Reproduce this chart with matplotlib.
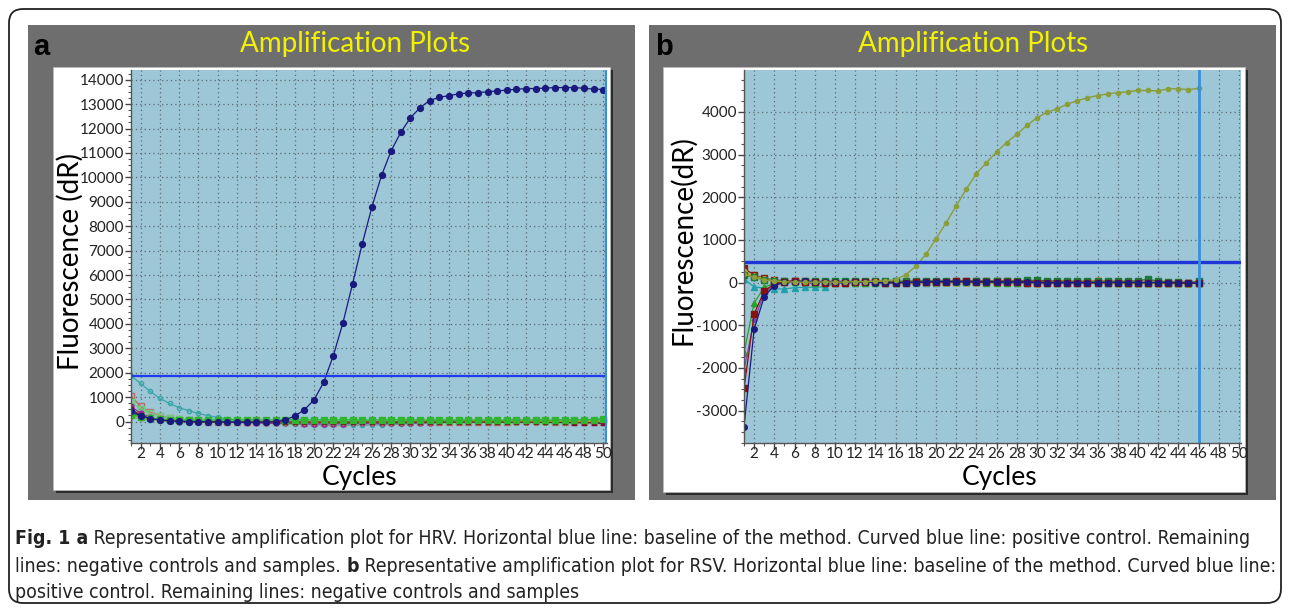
import matplotlib
matplotlib.use('Agg')
import matplotlib.pyplot as plt
import matplotlib.font_manager as fm
from matplotlib.font_manager import FontProperties
from matplotlib.patches import FancyBboxPatch, Rectangle
from matplotlib.ticker import MultipleLocator, FixedLocator

plt.rcParams['axes.unicode_minus'] = False

# ---------------- data ----------------
cycles_a = list(range(1, 51))
threshold_a = 1870
pos_a = [430, 230, 120, 60, 30, 10, 0, -10, -10, -20, -20, -20, -30, -30, -20, -10, 60, 230, 480, 890,
         1610, 2700, 4050, 5650, 7280, 8790, 10080, 11090, 11850, 12440, 12860, 13150, 13280, 13350, 13420,
         13460, 13470, 13510, 13540, 13580, 13610, 13640, 13640, 13660, 13680, 13680, 13680, 13650, 13620, 13600]
teal_a = [1870, 1560, 1230, 950, 740, 570, 440, 330, 240, 170, 110, 60, 20, -10, -40, -60, -80, -100, -120, -130,
          -140, -150, -150, -150, -150, -140, -130, -120, -100, -90, -70, -50, -40, -30, -20, -10, 0, 0, 10, 10,
          20, 20, 30, 30, 40, 40, 50, 60, 80, 110]
rose_a = [1050, 620, 380, 240, 150, 90, 50, 20, 0, -10, -20, -20, -30, -30, -30, -40, -40, -40, -50, -50,
          -50, -50, -50, -40, -40, -40, -40, -30, -30, -30, -20, -20, -20, -10, -10, -10, -10, 0, 0, 0,
          10, 10, 10, 10, 0, 0, 0, -10, -10, -20]
lgreen_a = [800, 520, 330, 220, 160, 110, 80, 60, 40, 30, 20, 20, 10, 10, 0, 0, 0, -10, -10, -10,
            -10, -10, 0, 0, 0, 0, 10, 10, 10, 10, 10, 10, 20, 20, 20, 20, 20, 20, 20, 30,
            30, 30, 30, 30, 30, 30, 40, 40, 40, 40]
purple_a = [620, 330, 170, 80, 30, 10, 0, -10, -20, -20, -30, -40, -50, -60, -70, -80, -80, -80, -90, -90,
            -90, -90, -90, -80, -80, -80, -80, -70, -70, -60, -60, -50, -40, -40, -30, -30, -20, -20, -20, -10,
            -10, -10, -10, -10, -20, -20, -20, -30, -30, -40]
dgreen_a = [350, 200, 110, 60, 30, 10, 0, 0, 0, 0, 0, -10, -10, -10, -10, -10, -10, -10, -10, -10,
            -10, -10, -10, -10, -10, -10, -10, -10, -10, 0, 0, 0, 0, 0, 0, 0, 0, 0, 0, 0,
            0, 0, 0, 0, 0, 0, 0, 0, 0, 0]
gray_a = [160, 110, 70, 40, 20, 10, 0, 0, -10, -10, -10, -10, -10, -10, 0, 0, 0, 0, 0, 0,
          0, 0, 0, 0, 0, 0, 0, 0, 0, 0, 0, 10, 10, 10, 10, 10, 10, 10, 10, 10,
          10, 10, 10, 10, 10, 10, 10, 10, 10, 10]
orange_a = [260, 170, 100, 60, 30, 10, 0, -10, -10, -10, -20, -20, -20, -20, -20, -20, -20, -20, -20, -20,
            -20, -20, -20, -20, -20, -10, -10, -10, -10, -10, 0, 0, 0, 0, 0, 0, 0, 0, 0, 0,
            0, 0, 0, 0, 0, 0, 0, 0, 0, 0]
bgreen_a = [280, 200, 140, 100, 80, 60, 60, 60, 60, 60, 70, 70, 70, 60, 60, 60, 70, 70, 70, 70,
            70, 70, 70, 70, 60, 60, 70, 70, 70, 70, 60, 60, 60, 60, 60, 60, 60, 60, 60, 60,
            60, 60, 60, 60, 60, 70, 70, 70, 80, 90]
maroon_a = [500, 260, 130, 60, 20, 0, -10, -20, -20, -20, -20, -20, -20, -20, -20, -20, -20, -20, -20, -20,
            -20, -20, -20, -20, -20, -20, -20, -20, -20, -20, -20, -20, -20, -20, -20, -20, -20, -20, -20, -30,
            -30, -30, -30, -40, -40, -40, -50, -50, -60, -80]

cycles_b = list(range(1, 47))
threshold_b = 490
pos_b = [200, 120, 60, 30, 20, 10, 10, 10, 10, 10, 10, 20, 20, 30, 40, 70, 180, 380, 660, 1020,
         1400, 1790, 2190, 2550, 2810, 3060, 3280, 3470, 3680, 3860, 3990, 4070, 4180, 4260, 4330,
         4380, 4420, 4450, 4470, 4500, 4500, 4490, 4540, 4540, 4520, 4550]
navy_b = [-3380, -1100, -330, -70, 10, 20, 30, 20, 10, 10, 10, 10, 10, 0, -10, -10, 0, 0, 10, 20,
          20, 20, 20, 10, 10, 10, 10, 10, 10, 0, 0, 0, 0, 0, 0, 0, 0, 0, 0, 0, 0, 0, 0, -10, -10, -20]
dred_b = [-2480, -740, -200, -30, 20, 30, 20, 10, 0, 0, 0, 10, 10, 10, 0, 0, 0, 10, 10, 20,
          20, 30, 30, 20, 20, 20, 10, 10, 0, 0, -10, -10, -10, -10, -10, -10, 0, 0, 0, 0, 0, 0, -10, -10, -10, -20]
purple_b = [-2050, -880, -260, -60, 0, 10, 10, 10, 0, 0, 0, 0, 10, 10, 10, 0, 0, 0, 0, 10,
            10, 10, 10, 10, 10, 0, 0, 0, 0, 0, 0, 0, 0, 0, 0, 0, 0, 0, 0, 0, 0, 0, 0, 0, 0, -10]
green_b = [-1650, -480, -110, -20, 10, 10, 10, 0, 0, 0, 0, 0, 0, 0, 0, 0, 10, 10, 20, 20,
           20, 10, 10, 10, 0, -10, -10, -10, -10, -10, 0, 0, 0, 0, 0, 0, 0, -10, -10, -10, -10, -10, -10, -20, -20, -20]
teal_b = [80, -100, -130, -150, -150, -120, -110, -110, -100, -20, 0, 0, 0, 0, 0, 0, 0, 0, 0, 0,
          10, 10, 10, 10, 10, 10, 10, 0, 0, 0, 0, 0, 0, 0, 0, 0, 0, 0, 0, 0, 0, 0, 0, 0, 0, -10]
maroon_b = [330, 180, 100, 60, 40, 30, 30, 20, 20, 20, 20, 20, 20, 10, 10, 10, 10, 10, 10, 10,
            10, 20, 20, 30, 30, 30, 30, 20, 20, 20, 10, 10, 10, 10, 10, 10, 10, 10, 0, 0, 0, 0, 0, 0, 0, 0]
orange_b = [230, 140, 80, 40, 30, 20, 10, 10, 0, 0, 30, 10, 0, 0, 0, 0, 0, 0, 0, 0,
            0, 0, 0, 0, 0, 30, 0, 0, -10, -30, -20, -10, 0, 0, 10, 60, 20, 0, 0, 0, 0, 0, 0, 0, 0, -10]
olive_b = [260, 160, 90, 50, 30, 20, 10, 0, 0, 0, 0, 0, 0, 0, 0, -10, -10, -10, -10, -10,
           -10, -10, -10, -10, -20, -20, -20, -20, -20, -20, -20, -20, -20, -20, -20, -20, -20, -30, -30, -30,
           -30, -30, -30, -30, -30, -30]
dgreen_b = [180, 120, 70, 40, 30, 30, 30, 30, 30, 30, 30, 30, 30, 30, 30, 30, 30, 40, 40, 40,
            40, 40, 40, 40, 40, 40, 40, 40, 50, 50, 40, 40, 30, 30, 30, 30, 30, 30, 30, 40, 80, 30, 20, 10, 0, 30]

xticks = list(range(2, 51, 2))
yticks_a = list(range(0, 14001, 1000))
yticks_b = list(range(-3000, 4001, 1000))
title_text = "Amplification Plots"
caption_lines = [
    [("Fig. 1 a", "bold"), (" Representative amplification plot for HRV. Horizontal blue line: baseline of the method. Curved blue line: positive control. Remaining", "normal")],
    [("lines: negative controls and samples. ", "normal"), ("b", "bold"), (" Representative amplification plot for RSV. Horizontal blue line: baseline of the method. Curved blue line:", "normal")],
    [("positive control. Remaining lines: negative controls and samples", "normal")],
]

# ---------------- layout ----------------
W, H = 1290, 611
fig = plt.figure(figsize=(W / 100, H / 100), dpi=100)
fig.patch.set_facecolor('white')

def fr(x0, y0, x1, y1):
    return [x0 / W, 1 - y1 / H, (x1 - x0) / W, (y1 - y0) / H]

bg = fig.add_axes([0, 0, 1, 1], zorder=-10)
bg.set_xlim(0, W)
bg.set_ylim(H, 0)
bg.axis('off')
bg.add_patch(FancyBboxPatch((9, 9), 1272, 594, boxstyle="round,pad=0,rounding_size=14",
                            facecolor='white', edgecolor='#222222', lw=1.3))
GRAY = '#6e6e6e'
bg.add_patch(Rectangle((28, 25), 607, 475, facecolor=GRAY, edgecolor='none'))
bg.add_patch(Rectangle((649, 25), 627, 475, facecolor=GRAY, edgecolor='none'))
for (x0, y0, x1, y1) in [(53, 67, 610, 490), (663, 67, 1245, 492)]:
    bg.add_patch(Rectangle((x0 + 3, y0 + 3), x1 - x0, y1 - y0, facecolor='#2b2b2b', edgecolor='none'))
    bg.add_patch(Rectangle((x0, y0), x1 - x0, y1 - y0, facecolor='white', edgecolor='#bbbbbb', lw=0.5))

FONT = ['Lato', 'DejaVu Sans']
bg.text(33, 47, 'a', fontsize=21, fontweight='bold', family=['Liberation Sans', 'DejaVu Sans'],
        ha='left', va='center', color='black')
bg.text(655, 47, 'b', fontsize=21, fontweight='bold', family=['Liberation Sans', 'DejaVu Sans'],
        ha='left', va='center', color='black')
bg.text(355, 44, title_text, fontsize=20, color='#f2f200', family=FONT, ha='center', va='center')
bg.text(973, 44, title_text, fontsize=20, color='#f2f200', family=FONT, ha='center', va='center')
bg.text(70, 262, 'Fluorescence (dR)', fontsize=20, rotation=90, family=FONT, ha='center', va='center')
bg.text(683, 240, 'Fluorescence(dR)', fontsize=20, rotation=90, family=FONT, ha='center', va='center')
bg.text(360, 478, 'Cycles', fontsize=19, family=FONT, ha='center', va='center')
bg.text(1000, 478, 'Cycles', fontsize=19, family=FONT, ha='center', va='center')

AXBG = '#9dc6d6'

def style_axes(ax, yticks, yminor):
    ax.set_facecolor(AXBG)
    for s in ['top', 'right']:
        ax.spines[s].set_visible(False)
    for s in ['left', 'bottom']:
        ax.spines[s].set_color('#555555')
        ax.spines[s].set_linewidth(1.0)
    ax.xaxis.set_major_locator(FixedLocator(xticks))
    ax.xaxis.set_minor_locator(MultipleLocator(1))
    ax.yaxis.set_major_locator(FixedLocator(yticks))
    ax.yaxis.set_minor_locator(MultipleLocator(yminor))
    ax.tick_params(which='major', direction='out', length=4, width=1, color='#444444',
                   labelsize=11, pad=1)
    ax.tick_params(axis='x', which='major', pad=-1)
    ax.tick_params(which='minor', direction='out', length=2.5, width=0.8, color='#555555')
    for lab in ax.get_xticklabels() + ax.get_yticklabels():
        lab.set_family(FONT)
        lab.set_color('#222222')
    ax.grid(which='major', linestyle=(0, (1, 2.5)), color='#5a6a72', lw=0.9)
    ax.set_axisbelow(True)

# ---- panel a ----
axa = fig.add_axes(fr(131, 70, 607, 443))
style_axes(axa, yticks_a, 250)
axa.set_xlim(1, 50.4)
axa.set_ylim(-880, 14400)
neg_a = [
    (teal_a, '#3aa6a8', 'o', 3, 'none'),
    (rose_a, '#b86a6a', 's', 4, 'none'),
    (lgreen_a, '#6fcf7a', 's', 4, 'none'),
    (purple_a, '#9a2a9a', 'o', 3.5, None),
    (dgreen_a, '#1f7a1f', 'o', 3.5, None),
    (gray_a, '#999999', 'v', 3.5, None),
    (orange_a, '#d58a35', 'D', 3, None),
    (maroon_a, '#7a1030', 's', 3, None),
    (bgreen_a, '#2fb52f', 's', 4, None),
]
for vals, col, mk, ms, mfc in neg_a:
    kw = dict(color=col, marker=mk, markersize=ms, lw=0.9)
    if mfc == 'none':
        kw['markerfacecolor'] = 'none'
    axa.plot(cycles_a, vals, **kw)
axa.plot(cycles_a, pos_a, color='#1a1a7e', marker='o', markersize=4.2, lw=0.9)
axa.axhline(threshold_a, xmin=0, xmax=1, color='#1f3cf0', lw=1.6)
axa.axvline(50.3, color='#3a8ee0', lw=1.6)

# ---- panel b ----
axb = fig.add_axes(fr(744, 70, 1241, 443))
style_axes(axb, yticks_b, 250)
axb.set_xlim(1, 50.2)
axb.set_ylim(-3760, 4980)
neg_b = [
    (teal_b, '#20a0a8', '^', 4, None),
    (maroon_b, '#8b1a1a', 's', 4, None),
    (orange_b, '#f28a25', 'o', 4, None),
    (olive_b, '#b7b732', 'D', 3, None),
    (dgreen_b, '#1a7a3a', 's', 4, None),
    (green_b, '#2ca02c', '^', 4, None),
    (purple_b, '#7a4aa8', 'o', 3, None),
    (dred_b, '#8b0f0f', 's', 4, None),
    (navy_b, '#1a1a80', 'o', 4, None),
]
for vals, col, mk, ms, mfc in neg_b:
    axb.plot(cycles_b, vals, color=col, marker=mk, markersize=ms, lw=0.9)
axb.plot(cycles_b, pos_b, color='#8a9e3a', marker='o', markersize=3, lw=1.0)
axb.axhline(threshold_b, color='#1f36d8', lw=2.4)
axb.axvline(46, color='#3a8ee0', lw=2.0)

# ---- caption (narrow font if available) ----
def find_narrow():
    reg, bold = None, None
    for f in fm.fontManager.ttflist:
        narrow = ('Narrow' in f.name or 'Condensed' in f.name or
                  str(f.stretch) in ('condensed', 'semi-condensed', 'extra-condensed'))
        if not narrow or f.style != 'normal':
            continue
        w = f.weight if isinstance(f.weight, int) else (700 if 'bold' in str(f.weight) else 400)
        if w >= 600 and bold is None:
            bold = f.fname
        if w < 600 and reg is None:
            reg = f.fname
    return reg, bold

reg_f, bold_f = find_narrow()
def cap_props(wt, size):
    if reg_f is not None:
        fn = bold_f if (wt == 'bold' and bold_f is not None) else reg_f
        p = FontProperties(fname=fn, size=size)
        if wt == 'bold' and bold_f is None:
            p.set_weight('bold')
        return p
    return FontProperties(family=['Lato', 'DejaVu Sans'], weight=wt, size=size)

fig.canvas.draw()
renderer = fig.canvas.get_renderer()

def line_width(segs, size):
    total = 0
    for txt, wt in segs:
        t = bg.text(0, 0, txt, fontproperties=cap_props(wt, size))
        total += t.get_window_extent(renderer=renderer).width
        t.remove()
    return total

base = 14.0
w1 = line_width(caption_lines[0], base)
cap_size = base * 1242.0 / w1
line_y = [539, 566, 593]
for segs, y in zip(caption_lines, line_y):
    x = 15
    for txt, wt in segs:
        t = bg.text(x, y, txt, fontproperties=cap_props(wt, cap_size), color='#222222',
                    ha='left', va='center')
        x += t.get_window_extent(renderer=renderer).width

fig.savefig('out.png', dpi=100, facecolor='white')
